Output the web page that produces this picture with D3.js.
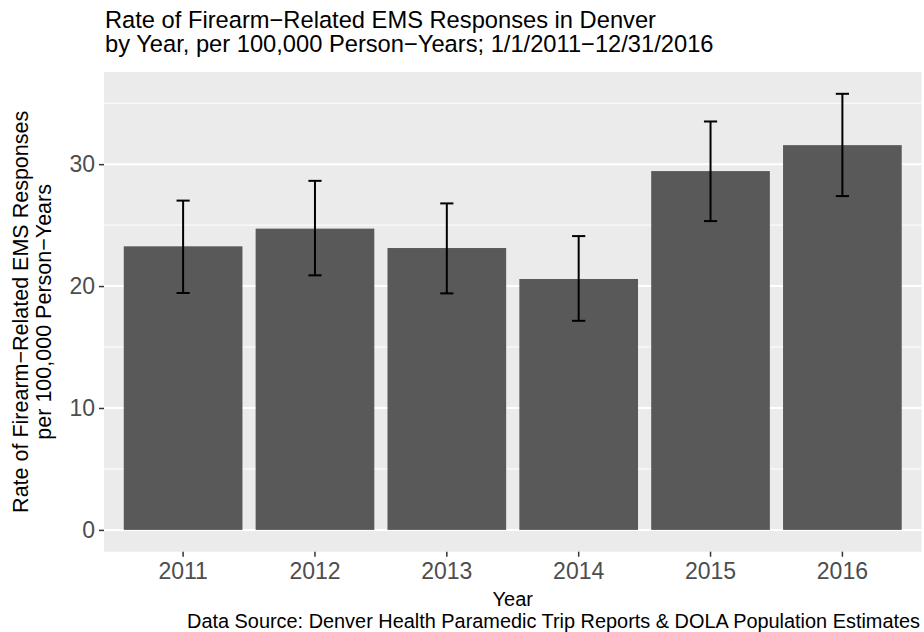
<!DOCTYPE html>
<html>
<head>
<meta charset="utf-8">
<script src="https://cdn.jsdelivr.net/npm/d3@7"></script>
<style>
  html, body { margin: 0; padding: 0; background: #ffffff; }
  svg { display: block; font-family: "Liberation Sans", Arial, Helvetica, sans-serif; }
</style>
</head>
<body>
<div id="chart"></div>
<script>
// ---- data ----
const years = ["2011", "2012", "2013", "2014", "2015", "2016"];
const rates = [23.26, 24.71, 23.12, 20.58, 29.43, 31.56];
const lowerCI = [19.43, 20.88, 19.40, 17.15, 25.33, 27.38];
const upperCI = [27.01, 28.63, 26.78, 24.10, 33.50, 35.77];
const yTicks = [0, 10, 20, 30];
const yMinorTicks = [5, 15, 25, 35];

const titleLines = [
  "Rate of Firearm\u2212Related EMS Responses in Denver",
  "by Year, per 100,000 Person\u2212Years; 1/1/2011\u221212/31/2016"
];
const yTitleLines = [
  "Rate of Firearm\u2212Related EMS Responses",
  "per 100,000 Person\u2212Years"
];
const xTitle = "Year";
const caption = "Data Source: Denver Health Paramedic Trip Reports & DOLA Population Estimates";

// ---- layout ----
const W = 924, H = 632;
const panel = { left: 104, right: 921.5, top: 72, bottom: 551.7 };

const svg = d3.select("#chart").append("svg")
  .attr("width", W).attr("height", H);

const data = years.map((y, i) => ({ year: y, rate: rates[i], lo: lowerCI[i], hi: upperCI[i] }));

const x = d3.scaleBand()
  .domain(years)
  .range([panel.left, panel.right])
  .paddingInner(0.1)
  .paddingOuter(0.15);

const dataMax = d3.max(upperCI);
const ext = 0.05 * (dataMax - 0);
const y = d3.scaleLinear()
  .domain([0 - ext, dataMax + ext])
  .range([panel.bottom, panel.top]);

// panel background
svg.append("rect")
  .attr("x", panel.left).attr("y", panel.top)
  .attr("width", panel.right - panel.left)
  .attr("height", panel.bottom - panel.top)
  .attr("fill", "#EBEBEB");

// minor gridlines
svg.append("g").selectAll("line").data(yMinorTicks).join("line")
  .attr("x1", panel.left).attr("x2", panel.right)
  .attr("y1", d => y(d)).attr("y2", d => y(d))
  .attr("stroke", "#ffffff").attr("stroke-width", 1);

// major gridlines
svg.append("g").selectAll("line").data(yTicks).join("line")
  .attr("x1", panel.left).attr("x2", panel.right)
  .attr("y1", d => y(d)).attr("y2", d => y(d))
  .attr("stroke", "#ffffff").attr("stroke-width", 2);

// bars
svg.append("g").selectAll("rect").data(data).join("rect")
  .attr("x", d => x(d.year))
  .attr("width", x.bandwidth())
  .attr("y", d => y(d.rate))
  .attr("height", d => y(0) - y(d.rate))
  .attr("fill", "#595959");

// error bars
const capW = x.step() * 0.1;
const eg = svg.append("g").attr("stroke", "#000000").attr("stroke-width", 2).attr("fill", "none");
eg.selectAll("line.v").data(data).join("line").attr("class", "v")
  .attr("x1", d => x(d.year) + x.bandwidth() / 2).attr("x2", d => x(d.year) + x.bandwidth() / 2)
  .attr("y1", d => y(d.lo)).attr("y2", d => y(d.hi));
eg.selectAll("line.t").data(data).join("line").attr("class", "t")
  .attr("x1", d => x(d.year) + x.bandwidth() / 2 - capW / 2)
  .attr("x2", d => x(d.year) + x.bandwidth() / 2 + capW / 2)
  .attr("y1", d => y(d.hi)).attr("y2", d => y(d.hi));
eg.selectAll("line.b").data(data).join("line").attr("class", "b")
  .attr("x1", d => x(d.year) + x.bandwidth() / 2 - capW / 2)
  .attr("x2", d => x(d.year) + x.bandwidth() / 2 + capW / 2)
  .attr("y1", d => y(d.lo)).attr("y2", d => y(d.lo));

// x axis
const xAxis = d3.axisBottom(x).tickSize(5).tickPadding(6);
const gx = svg.append("g")
  .attr("transform", `translate(0,${panel.bottom})`)
  .call(xAxis);
gx.select(".domain").remove();
gx.selectAll(".tick line").attr("stroke", "#333333").attr("stroke-width", 1.5);
gx.selectAll(".tick text")
  .attr("fill", "#4D4D4D")
  .attr("font-size", "23px")
  .attr("font-family", "Liberation Sans, Arial, sans-serif");

// y axis
const yAxis = d3.axisLeft(y).tickValues(yTicks).tickSize(5).tickPadding(4).tickFormat(d3.format("d"));
const gy = svg.append("g")
  .attr("transform", `translate(${panel.left},0)`)
  .call(yAxis);
gy.select(".domain").remove();
gy.selectAll(".tick line").attr("stroke", "#333333").attr("stroke-width", 1.5);
gy.selectAll(".tick text")
  .attr("fill", "#4D4D4D")
  .attr("font-size", "23px")
  .attr("font-family", "Liberation Sans, Arial, sans-serif");

// title
svg.append("g").selectAll("text").data(titleLines).join("text")
  .attr("x", 105)
  .attr("y", (d, i) => 28 + i * 24)
  .attr("font-size", "23.7px")
  .attr("fill", "#000000")
  .text(d => d);

// x title
svg.append("text")
  .attr("x", (panel.left + panel.right) / 2)
  .attr("y", 606)
  .attr("text-anchor", "middle")
  .attr("font-size", "20px")
  .attr("fill", "#000000")
  .text(xTitle);

// y title
const yc = (panel.top + panel.bottom) / 2;
svg.append("g").selectAll("text").data(yTitleLines).join("text")
  .attr("transform", (d, i) => `translate(${28 + i * 22.5},${yc}) rotate(-90)`)
  .attr("text-anchor", "middle")
  .attr("font-size", "21.5px")
  .attr("fill", "#000000")
  .text(d => d);

// caption
svg.append("text")
  .attr("x", 920)
  .attr("y", 627.5)
  .attr("text-anchor", "end")
  .attr("font-size", "19.9px")
  .attr("fill", "#000000")
  .text(caption);
</script>
</body>
</html>
